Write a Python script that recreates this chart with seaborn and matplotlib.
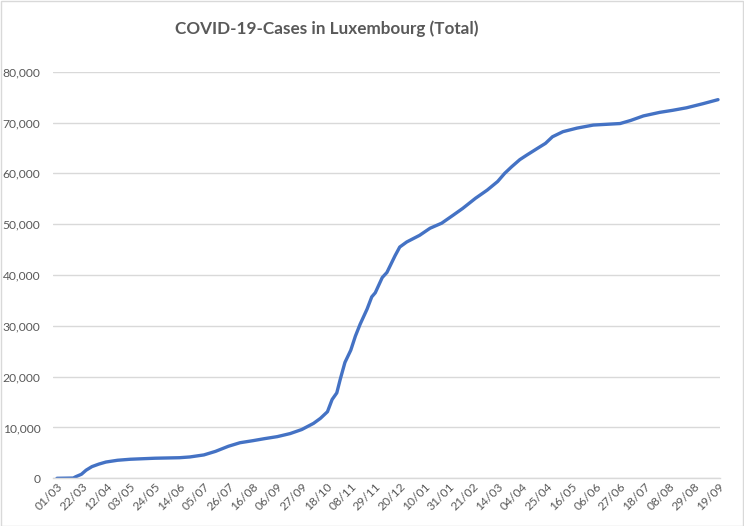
import matplotlib
matplotlib.use("Agg")
import matplotlib.pyplot as plt
import matplotlib.dates as mdates
from matplotlib.patches import Rectangle
import seaborn as sns
import pandas as pd

# ---- data ----
start_date = "2020-03-01"
days_since_start = [0, 14, 16, 21, 25, 30, 36, 42, 52, 63, 84, 105, 114, 126, 136,
                    147, 157, 168, 178, 189, 200, 210, 220, 226, 232, 236, 240, 243,
                    247, 252, 256, 260, 266, 270, 273, 279, 283, 290, 294, 300, 311,
                    320, 330, 340, 348, 359, 369, 378, 384, 390, 397, 403, 412, 419,
                    425, 434, 446, 460, 483, 492, 503, 517, 528, 540, 554, 567]
total_cases = [0, 50, 300, 800, 1600, 2300, 2800, 3200, 3550, 3750, 3950, 4050, 4200,
               4600, 5300, 6300, 7000, 7400, 7800, 8200, 8800, 9600, 10800, 11800,
               13100, 15500, 16800, 19500, 22800, 25200, 28000, 30300, 33300, 35700,
               36500, 39500, 40500, 43800, 45500, 46500, 47800, 49200, 50200, 51800,
               53100, 55100, 56700, 58400, 60000, 61300, 62700, 63600, 64900, 65900,
               67200, 68200, 68900, 69500, 69800, 70400, 71300, 72000, 72400, 72900,
               73700, 74500]
tick_step_days = 21
n_ticks = 28
y_ticks = [0, 10000, 20000, 30000, 40000, 50000, 60000, 70000, 80000]
title = "COVID-19-Cases in Luxembourg (Total)"

base = pd.Timestamp(start_date)
df = pd.DataFrame({
    "date": base + pd.to_timedelta(days_since_start, unit="D"),
    "cases": total_cases,
})

sns.set_theme(style="white")
plt.rcParams["font.family"] = ["Lato", "DejaVu Sans"]

txt = "#595959"
grid = "#d9d9d9"

fig = plt.figure(figsize=(7.44, 5.26), dpi=100)
ax = fig.add_axes([53 / 744, (526 - 478.3) / 526, 667 / 744, (478.3 - 71.7) / 526])

sns.lineplot(data=df, x="date", y="cases", ax=ax, color="#4472C4", linewidth=2.4)

ax.set_ylim(0, 80000)
ax.set_yticks(y_ticks)
ax.set_yticklabels([f"{v:,}" for v in y_ticks])
ax.set_xlim(base - pd.Timedelta(days=3.4), base + pd.Timedelta(days=568.7))
ticks = pd.date_range(base, periods=n_ticks, freq=f"{tick_step_days}D")
ax.set_xticks(ticks)
ax.xaxis.set_major_formatter(mdates.DateFormatter("%d/%m"))

ax.grid(axis="y", color=grid, linewidth=1)
ax.grid(axis="x", visible=False)
ax.set_axisbelow(True)
for s in ["top", "right", "left"]:
    ax.spines[s].set_visible(False)
ax.spines["bottom"].set_color(grid)
ax.spines["bottom"].set_linewidth(1)
ax.set_xlabel("")
ax.set_ylabel("")
ax.tick_params(axis="y", length=0, pad=9, labelsize=8.7, labelcolor=txt)
ax.tick_params(axis="x", length=0, pad=2, labelsize=8.7, labelcolor=txt)
for lab in ax.get_xticklabels():
    lab.set_rotation(45)
    lab.set_ha("right")
    lab.set_rotation_mode("anchor")

fig.text(327 / 744, 1 - 29 / 526, title, ha="center", va="center",
         fontsize=12.3, fontweight="bold", color=txt)

fig.patches.append(Rectangle((0.5 / 744, 0.5 / 526), 742.5 / 744, 524.5 / 526,
                             transform=fig.transFigure, fill=False,
                             edgecolor="#d9d9d9", linewidth=1))

fig.savefig("out.png", dpi=100)
